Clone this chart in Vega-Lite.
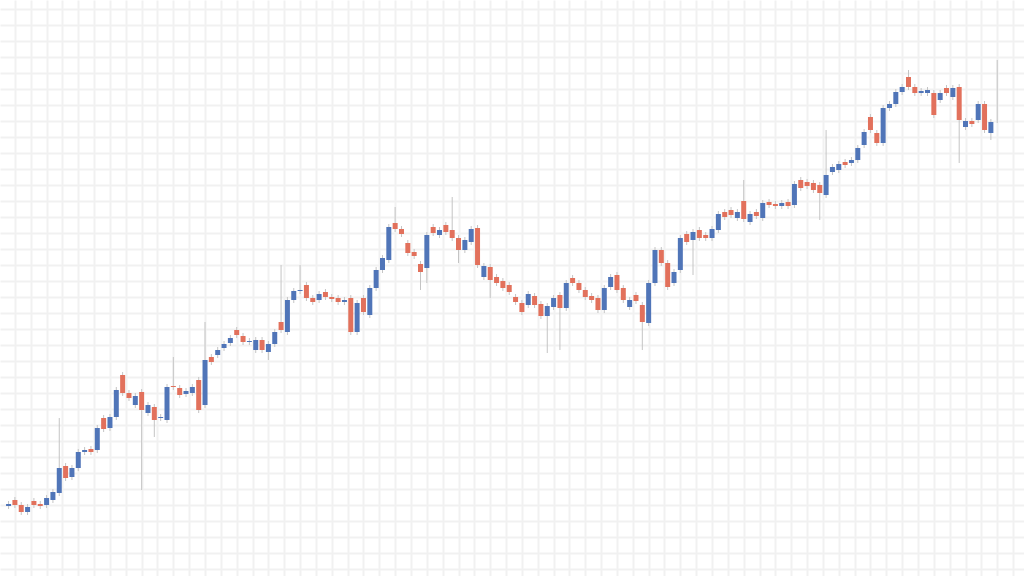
{
  "$schema": "https://vega.github.io/schema/vega-lite/v6.json",
  "width": 1024,
  "height": 576,
  "autosize": {"type": "fit", "contains": "padding"},
  "padding": 0,
  "background": "white",
  "config": {
    "view": {"stroke": null},
    "axis": {"labelOverlap": false, "labels": false, "ticks": false, "domain": false, "title": null, "grid": true, "gridColor": "#f1f1f1", "gridWidth": 2}
  },
  "data": {"values": [
    {"t":0,"o":70,"c":72,"h":75,"l":67},
    {"t":1,"o":76,"c":71,"h":79,"l":68},
    {"t":2,"o":71,"c":64,"h":74,"l":61},
    {"t":3,"o":64,"c":69,"h":72,"l":61},
    {"t":4,"o":75,"c":71,"h":78,"l":68},
    {"t":5,"o":72,"c":70,"h":75,"l":67},
    {"t":6,"o":71,"c":78,"h":81,"l":68},
    {"t":7,"o":76,"c":84,"h":87,"l":73},
    {"t":8,"o":83,"c":108,"h":158,"l":80},
    {"t":9,"o":110,"c":98,"h":113,"l":95},
    {"t":10,"o":99,"c":108,"h":111,"l":96},
    {"t":11,"o":108,"c":124,"h":127,"l":105},
    {"t":12,"o":124,"c":126,"h":129,"l":121},
    {"t":13,"o":127,"c":124,"h":130,"l":121},
    {"t":14,"o":126,"c":148,"h":151,"l":123},
    {"t":15,"o":158,"c":147,"h":161,"l":144},
    {"t":16,"o":148,"c":159,"h":162,"l":145},
    {"t":17,"o":159,"c":186,"h":189,"l":156},
    {"t":18,"o":201,"c":183,"h":204,"l":180},
    {"t":19,"o":183,"c":178,"h":186,"l":175},
    {"t":20,"o":171,"c":180,"h":183,"l":168},
    {"t":21,"o":184,"c":166,"h":187,"l":86},
    {"t":22,"o":163,"c":171,"h":174,"l":160},
    {"t":23,"o":169,"c":156,"h":172,"l":139},
    {"t":24,"o":158,"c":159,"h":162,"l":155},
    {"t":25,"o":156,"c":189,"h":192,"l":153},
    {"t":26,"o":190,"c":189,"h":219,"l":186},
    {"t":27,"o":188,"c":181,"h":191,"l":178},
    {"t":28,"o":182,"c":185,"h":188,"l":179},
    {"t":29,"o":183,"c":189,"h":192,"l":180},
    {"t":30,"o":196,"c":166,"h":199,"l":163},
    {"t":31,"o":171,"c":216,"h":254,"l":168},
    {"t":32,"o":219,"c":214,"h":222,"l":211},
    {"t":33,"o":221,"c":226,"h":229,"l":218},
    {"t":34,"o":228,"c":232,"h":235,"l":225},
    {"t":35,"o":233,"c":238,"h":241,"l":230},
    {"t":36,"o":246,"c":241,"h":249,"l":238},
    {"t":37,"o":240,"c":234,"h":243,"l":231},
    {"t":38,"o":234,"c":235,"h":238,"l":231},
    {"t":39,"o":226,"c":236,"h":239,"l":223},
    {"t":40,"o":236,"c":226,"h":239,"l":223},
    {"t":41,"o":224,"c":232,"h":235,"l":216},
    {"t":42,"o":232,"c":244,"h":247,"l":229},
    {"t":43,"o":254,"c":246,"h":311,"l":243},
    {"t":44,"o":244,"c":276,"h":279,"l":241},
    {"t":45,"o":276,"c":285,"h":288,"l":273},
    {"t":46,"o":285,"c":286,"h":311,"l":282},
    {"t":47,"o":291,"c":278,"h":294,"l":275},
    {"t":48,"o":278,"c":274,"h":281,"l":271},
    {"t":49,"o":276,"c":282,"h":285,"l":273},
    {"t":50,"o":284,"c":279,"h":287,"l":276},
    {"t":51,"o":279,"c":277,"h":282,"l":274},
    {"t":52,"o":278,"c":274,"h":281,"l":271},
    {"t":53,"o":274,"c":276,"h":279,"l":271},
    {"t":54,"o":278,"c":244,"h":281,"l":241},
    {"t":55,"o":244,"c":273,"h":276,"l":241},
    {"t":56,"o":278,"c":264,"h":281,"l":261},
    {"t":57,"o":261,"c":288,"h":291,"l":258},
    {"t":58,"o":288,"c":306,"h":309,"l":285},
    {"t":59,"o":306,"c":318,"h":321,"l":303},
    {"t":60,"o":316,"c":349,"h":352,"l":313},
    {"t":61,"o":353,"c":347,"h":369,"l":344},
    {"t":62,"o":347,"c":342,"h":350,"l":339},
    {"t":63,"o":333,"c":323,"h":336,"l":320},
    {"t":64,"o":324,"c":320,"h":327,"l":317},
    {"t":65,"o":312,"c":304,"h":315,"l":286},
    {"t":66,"o":308,"c":341,"h":344,"l":293},
    {"t":67,"o":349,"c":343,"h":352,"l":340},
    {"t":68,"o":341,"c":346,"h":349,"l":338},
    {"t":69,"o":351,"c":344,"h":354,"l":341},
    {"t":70,"o":346,"c":338,"h":379,"l":335},
    {"t":71,"o":338,"c":326,"h":341,"l":313},
    {"t":72,"o":326,"c":336,"h":339,"l":323},
    {"t":73,"o":334,"c":347,"h":350,"l":331},
    {"t":74,"o":348,"c":311,"h":351,"l":308},
    {"t":75,"o":299,"c":310,"h":313,"l":296},
    {"t":76,"o":309,"c":296,"h":312,"l":278},
    {"t":77,"o":299,"c":293,"h":302,"l":290},
    {"t":78,"o":295,"c":288,"h":298,"l":285},
    {"t":79,"o":291,"c":284,"h":294,"l":281},
    {"t":80,"o":279,"c":274,"h":282,"l":271},
    {"t":81,"o":273,"c":264,"h":276,"l":261},
    {"t":82,"o":271,"c":282,"h":285,"l":268},
    {"t":83,"o":280,"c":271,"h":283,"l":268},
    {"t":84,"o":272,"c":260,"h":275,"l":257},
    {"t":85,"o":260,"c":270,"h":273,"l":223},
    {"t":86,"o":269,"c":278,"h":281,"l":266},
    {"t":87,"o":281,"c":268,"h":284,"l":226},
    {"t":88,"o":268,"c":293,"h":296,"l":265},
    {"t":89,"o":298,"c":293,"h":301,"l":290},
    {"t":90,"o":293,"c":286,"h":296,"l":283},
    {"t":91,"o":286,"c":279,"h":289,"l":276},
    {"t":92,"o":280,"c":276,"h":283,"l":273},
    {"t":93,"o":278,"c":266,"h":281,"l":263},
    {"t":94,"o":266,"c":288,"h":291,"l":263},
    {"t":95,"o":289,"c":299,"h":302,"l":286},
    {"t":96,"o":301,"c":286,"h":304,"l":283},
    {"t":97,"o":288,"c":276,"h":291,"l":273},
    {"t":98,"o":269,"c":276,"h":279,"l":266},
    {"t":99,"o":281,"c":275,"h":284,"l":272},
    {"t":100,"o":271,"c":254,"h":274,"l":226},
    {"t":101,"o":253,"c":293,"h":296,"l":250},
    {"t":102,"o":293,"c":326,"h":329,"l":290},
    {"t":103,"o":326,"c":313,"h":329,"l":310},
    {"t":104,"o":313,"c":289,"h":316,"l":286},
    {"t":105,"o":293,"c":304,"h":307,"l":290},
    {"t":106,"o":306,"c":338,"h":341,"l":303},
    {"t":107,"o":342,"c":334,"h":345,"l":331},
    {"t":108,"o":336,"c":344,"h":347,"l":301},
    {"t":109,"o":346,"c":338,"h":349,"l":335},
    {"t":110,"o":341,"c":338,"h":344,"l":335},
    {"t":111,"o":338,"c":347,"h":350,"l":335},
    {"t":112,"o":346,"c":362,"h":365,"l":343},
    {"t":113,"o":364,"c":359,"h":367,"l":356},
    {"t":114,"o":366,"c":361,"h":369,"l":358},
    {"t":115,"o":358,"c":364,"h":367,"l":355},
    {"t":116,"o":375,"c":357,"h":396,"l":354},
    {"t":117,"o":354,"c":362,"h":365,"l":351},
    {"t":118,"o":364,"c":360,"h":367,"l":357},
    {"t":119,"o":358,"c":373,"h":376,"l":355},
    {"t":120,"o":374,"c":371,"h":377,"l":368},
    {"t":121,"o":372,"c":370,"h":375,"l":367},
    {"t":122,"o":370,"c":373,"h":376,"l":367},
    {"t":123,"o":374,"c":370,"h":377,"l":367},
    {"t":124,"o":371,"c":392,"h":395,"l":368},
    {"t":125,"o":396,"c":388,"h":399,"l":385},
    {"t":126,"o":394,"c":390,"h":397,"l":387},
    {"t":127,"o":393,"c":386,"h":396,"l":383},
    {"t":128,"o":391,"c":383,"h":394,"l":356},
    {"t":129,"o":381,"c":401,"h":446,"l":378},
    {"t":130,"o":404,"c":409,"h":412,"l":401},
    {"t":131,"o":406,"c":412,"h":415,"l":403},
    {"t":132,"o":414,"c":411,"h":417,"l":408},
    {"t":133,"o":413,"c":416,"h":419,"l":410},
    {"t":134,"o":416,"c":428,"h":431,"l":413},
    {"t":135,"o":431,"c":444,"h":447,"l":428},
    {"t":136,"o":459,"c":446,"h":462,"l":443},
    {"t":137,"o":443,"c":433,"h":446,"l":430},
    {"t":138,"o":433,"c":468,"h":471,"l":430},
    {"t":139,"o":468,"c":472,"h":475,"l":465},
    {"t":140,"o":472,"c":484,"h":487,"l":469},
    {"t":141,"o":484,"c":489,"h":492,"l":481},
    {"t":142,"o":499,"c":489,"h":506,"l":486},
    {"t":143,"o":489,"c":483,"h":492,"l":480},
    {"t":144,"o":483,"c":485,"h":488,"l":480},
    {"t":145,"o":483,"c":486,"h":489,"l":480},
    {"t":146,"o":483,"c":461,"h":486,"l":458},
    {"t":147,"o":476,"c":483,"h":486,"l":473},
    {"t":148,"o":488,"c":483,"h":491,"l":480},
    {"t":149,"o":479,"c":488,"h":491,"l":476},
    {"t":150,"o":489,"c":456,"h":492,"l":413},
    {"t":151,"o":449,"c":455,"h":458,"l":446},
    {"t":152,"o":455,"c":452,"h":458,"l":449},
    {"t":153,"o":456,"c":472,"h":475,"l":453},
    {"t":154,"o":472,"c":446,"h":475,"l":443},
    {"t":155,"o":443,"c":454,"h":457,"l":436},
    {"t":156,"o":454,"c":454,"h":516,"l":453}
  ]},
  "encoding": {
    "x": {
      "field": "t",
      "type": "quantitative",
      "scale": {"domain": [-0.5625, 159.4375], "nice": false, "zero": false},
      "axis": {
        "values": [1,3.5,6,8.5,11,13.5,16,18.5,21,23.5,26,28.5,31,33.5,36,38.5,41,43.5,46,48.5,51,53.5,56,58.5,61,63.5,66,68.5,71,73.5,76,78.5,81,83.5,86,88.5,91,93.5,96,98.5,101,103.5,106,108.5,111,113.5,116,118.5,121,123.5,126,128.5,131,133.5,136,138.5,141,143.5,146,148.5,151,153.5,156,158.5]
      }
    }
  },
  "layer": [
    {
      "mark": {"type": "rule", "color": "#c4c4c4", "strokeWidth": 1},
      "encoding": {
        "y": {
          "field": "l", "type": "quantitative",
          "scale": {"domain": [0, 576], "nice": false, "zero": false},
          "axis": {
            "tickCount": 40,
            "values": [567,551,535,519,503,487,471,455,439,423,407,391,375,359,343,327,311,295,279,263,247,231,215,199,183,167,151,135,119,103,87,71,55,39,23,7]
          }
        },
        "y2": {"field": "h"}
      }
    },
    {
      "mark": {"type": "bar", "size": 5},
      "encoding": {
        "y": {
          "field": "o", "type": "quantitative",
          "axis": {
            "tickCount": 40,
            "values": [567,551,535,519,503,487,471,455,439,423,407,391,375,359,343,327,311,295,279,263,247,231,215,199,183,167,151,135,119,103,87,71,55,39,23,7]
          }
        },
        "y2": {"field": "c"},
        "color": {
          "condition": [
            {"test": "datum.c > datum.o", "value": "#5075b8"},
            {"test": "datum.c < datum.o", "value": "#e2715c"}
          ],
          "value": "#c4c4c4"
        }
      }
    }
  ]
}
